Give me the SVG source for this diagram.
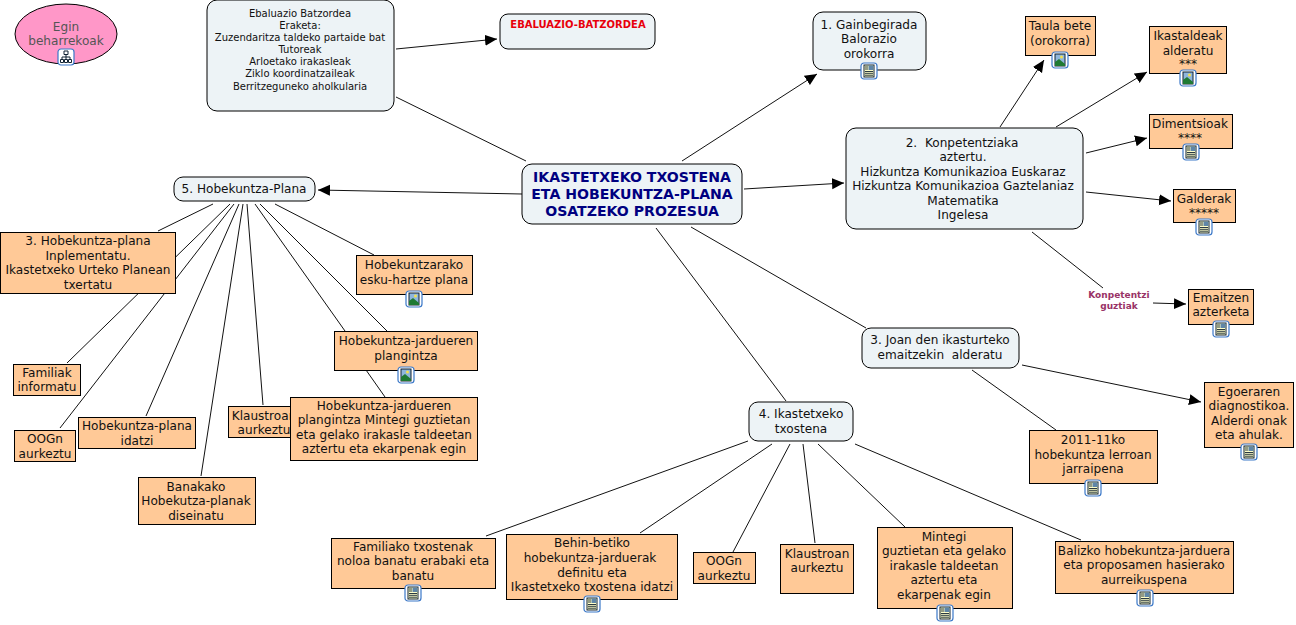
<svg xmlns="http://www.w3.org/2000/svg" width="1296" height="625" viewBox="0 0 1296 625">
<style>
text{font-family:"DejaVu Sans","Liberation Sans",sans-serif;font-size:12.1px;fill:#111;text-anchor:middle}
.o{fill:#ffc997;stroke:#000;stroke-width:1;shape-rendering:crispEdges}
.b{fill:#edf3f6;stroke:#000;stroke-width:1}
.l{fill:none;stroke:#111;stroke-width:1}
text.s{font-size:10px}
text.t{font-size:14.1px;font-weight:bold;fill:#000080}
text.k{font-size:9px;font-weight:bold;fill:#993366}
text.g{fill:#555}
</style>
<defs>
<marker id="a" markerUnits="userSpaceOnUse" markerWidth="14" markerHeight="12" refX="12" refY="5.5" orient="auto"><path d="M0 0L12 5.5L0 11Z" fill="#000"/></marker>
<symbol id="img" width="18" height="18" viewBox="0 0 18 18"><rect x="1" y="1" width="16" height="16" rx="3" fill="#fff" stroke="#3b78c8" stroke-width="1.2"/><rect x="4" y="3" width="10" height="12" fill="#8fb6dc" stroke="#123"/><circle cx="10.5" cy="6" r="1.5" fill="#f4e04d"/><path d="M4 15L4 11L8 8L14 13L14 15Z" fill="#1f7a33"/></symbol>
<symbol id="doc" width="18" height="18" viewBox="0 0 18 18"><rect x="1" y="1" width="16" height="16" rx="3" fill="#fff" stroke="#3b78c8" stroke-width="1.2"/><rect x="4" y="3" width="10" height="12" fill="#ffffc8" stroke="#123"/><rect x="8.5" y="3.5" width="5" height="4.5" fill="#5f86a8"/><path d="M5 5H8M5 7H8M5 9.5H13M5 11.3H13M5 13.2H13" stroke="#123" stroke-width=".9"/></symbol>
<symbol id="map" width="18" height="18" viewBox="0 0 18 18"><rect x="1" y="1" width="16" height="16" rx="3" fill="#fff" stroke="#3b78c8" stroke-width="1.2"/><path d="M7 3H11V6.5H7ZM3.5 11.5H6.5V14.5H3.5ZM7.5 11.5H10.5V14.5H7.5ZM11.5 11.5H14.5V14.5H11.5ZM9 6.5V11.5M5 11.5V9H13V11.5" fill="none" stroke="#123" stroke-width="1"/></symbol>
</defs>
<g id="connectors">
<path class="l" d="M396 49L497 39" marker-end="url(#a)"/>
<path class="l" d="M396 97L526 161"/>
<path class="l" d="M682 161L817 74" marker-end="url(#a)"/>
<path class="l" d="M744 189L844 183" marker-end="url(#a)"/>
<path class="l" d="M522 194L318 190" marker-end="url(#a)"/>
<path class="l" d="M691 227L866 328"/>
<path class="l" d="M656 228L786 401"/>
<path class="l" d="M1000 127L1044 60" marker-end="url(#a)"/>
<path class="l" d="M1056 127L1147 72" marker-end="url(#a)"/>
<path class="l" d="M1086 153L1147 138" marker-end="url(#a)"/>
<path class="l" d="M1086 192L1171 201" marker-end="url(#a)"/>
<path class="l" d="M1032 232L1103 288"/>
<path class="l" d="M1153 303L1186 304" marker-end="url(#a)"/>
<path class="l" d="M1022 365L1201 402" marker-end="url(#a)"/>
<path class="l" d="M972 370L1056 430"/>
<path class="l" d="M748 441L486 536"/>
<path class="l" d="M772 444L640 533"/>
<path class="l" d="M790 444L733 552"/>
<path class="l" d="M803 444L815 543"/>
<path class="l" d="M818 444L905 527"/>
<path class="l" d="M855 444L1081 540"/>
<path class="l" d="M213 204L158 231"/>
<path class="l" d="M230 204L67 363"/>
<path class="l" d="M234 204L60 428"/>
<path class="l" d="M239 204L146 416"/>
<path class="l" d="M243 204L201 476"/>
<path class="l" d="M247 204L263 405"/>
<path class="l" d="M255 204L345 331"/>
<path class="l" d="M260 204L387 331"/>
<path class="l" d="M275 204L374 255"/>
<path class="l" d="M366 370L385 397"/>
</g>
<g id="n-egin"><ellipse cx="66" cy="34" rx="51" ry="30" fill="#ff97c8" stroke="#000"/><text class="g" x="66" y="31">Egin</text><text class="g" x="66" y="45">beharrekoak</text><use href="#map" x="57" y="48"/></g>
<g id="n-ebal"><rect class="b" x="207" y="0" width="187" height="111" rx="10"/><text class="s" x="300" y="17">Ebaluazio Batzordea</text><text class="s" x="300" y="29">Eraketa:</text><text class="s" x="300" y="41">Zuzendaritza taldeko partaide bat</text><text class="s" x="300" y="53">Tutoreak</text><text class="s" x="300" y="65">Arloetako irakasleak</text><text class="s" x="300" y="77">Ziklo koordinatzaileak</text><text class="s" x="300" y="90">Berritzeguneko aholkularia</text></g>
<g id="n-batz"><rect class="b" x="500" y="14" width="155" height="35" rx="8"/><text x="578" y="28" style="font-size:10px;font-weight:bold;fill:#e8000b">EBALUAZIO-BATZORDEA</text></g>
<g id="n-gain"><rect class="b" x="813" y="12" width="113" height="58" rx="10"/><text x="869" y="29">1. Gainbegirada</text><text x="869" y="43">Balorazio</text><text x="869" y="58">orokorra</text><use href="#doc" x="860" y="62"/></g>
<g id="n-main"><rect class="b" x="522" y="164" width="220" height="60" rx="10"/><text class="t" x="632" y="182">IKASTETXEKO TXOSTENA</text><text class="t" x="632" y="199">ETA HOBEKUNTZA-PLANA</text><text class="t" x="632" y="216">OSATZEKO PROZESUA</text></g>
<g id="n-konp"><rect class="b" x="846" y="128" width="237" height="101" rx="10"/><text x="962" y="147" xml:space="preserve">2.  Konpetentziaka</text><text x="963" y="161">aztertu.</text><text x="963" y="176">Hizkuntza Komunikazioa Euskaraz</text><text x="963" y="190">Hizkuntza Komunikazioa Gaztelaniaz</text><text x="963" y="205">Matematika</text><text x="963" y="219">Ingelesa</text></g>
<g id="n-taula"><rect class="o" x="1025" y="16" width="70" height="39"/><text x="1060" y="30">Taula bete</text><text x="1060" y="45">(orokorra)</text><use href="#img" x="1051" y="51"/></g>
<g id="n-ikast"><rect class="o" x="1149" y="26" width="77" height="47"/><text x="1188" y="40">Ikastaldeak</text><text x="1188" y="55">alderatu</text><text x="1188" y="68">***</text><use href="#img" x="1179" y="69"/></g>
<g id="n-dim"><rect class="o" x="1149" y="114" width="83" height="34"/><text x="1190" y="128">Dimentsioak</text><text x="1190" y="142">****</text><use href="#doc" x="1182" y="143"/></g>
<g id="n-gald"><rect class="o" x="1173" y="189" width="62" height="33"/><text x="1204" y="203">Galderak</text><text x="1204" y="217">*****</text><use href="#doc" x="1195" y="218"/></g>
<g id="n-kg"><text class="k" x="1119" y="298">Konpetentzi</text><text class="k" x="1119" y="309">guztiak</text></g>
<g id="n-emai"><rect class="o" x="1188" y="289" width="65" height="35"/><text x="1221" y="302">Emaitzen</text><text x="1221" y="316">azterketa</text><use href="#doc" x="1212" y="320"/></g>
<g id="n-joan"><rect class="b" x="862" y="328" width="157" height="40" rx="9"/><text x="940" y="344">3. Joan den ikasturteko</text><text x="940" y="359" xml:space="preserve">emaitzekin  alderatu</text></g>
<g id="n-ego"><rect class="o" x="1204" y="382" width="89" height="65"/><text x="1249" y="396">Egoeraren</text><text x="1249" y="410">diagnostikoa.</text><text x="1249" y="425">Alderdi onak</text><text x="1249" y="439">eta ahulak.</text><use href="#doc" x="1240" y="443"/></g>
<g id="n-2011"><rect class="o" x="1029" y="430" width="128" height="53"/><text x="1093" y="444">2011-11ko</text><text x="1093" y="459">hobekuntza lerroan</text><text x="1093" y="473">jarraipena</text><use href="#doc" x="1084" y="479"/></g>
<g id="n-4"><rect class="b" x="749" y="402" width="104" height="39" rx="9"/><text x="801" y="418">4. Ikastetxeko</text><text x="801" y="433">txostena</text></g>
<g id="n-bal"><rect class="o" x="1055" y="541" width="178" height="52"/><text x="1144" y="555">Balizko hobekuntza-jarduera</text><text x="1144" y="569">eta proposamen hasierako</text><text x="1144" y="584">aurreikuspena</text><use href="#doc" x="1136" y="589"/></g>
<g id="n-mint"><rect class="o" x="877" y="527" width="135" height="81"/><text x="944" y="541">Mintegi</text><text x="944" y="555">guztietan eta gelako</text><text x="944" y="570">irakasle taldeetan</text><text x="944" y="584">aztertu eta</text><text x="944" y="599">ekarpenak egin</text><use href="#doc" x="936" y="604"/></g>
<g id="n-klau"><rect class="o" x="780" y="544" width="73" height="49"/><text x="817" y="558">Klaustroan</text><text x="817" y="572">aurkeztu</text></g>
<g id="n-oog"><rect class="o" x="693" y="552" width="62" height="31"/><text x="724" y="565">OOGn</text><text x="724" y="580">aurkeztu</text></g>
<g id="n-behin"><rect class="o" x="506" y="534" width="171" height="65"/><text x="592" y="547">Behin-betiko</text><text x="590" y="562">hobekuntza-jarduerak</text><text x="592" y="577">definitu eta</text><text x="592" y="591">Ikastetxeko txostena idatzi</text><use href="#doc" x="583" y="595"/></g>
<g id="n-fam"><rect class="o" x="331" y="538" width="164" height="50"/><text x="413" y="551">Familiako txostenak</text><text x="413" y="565">noloa banatu erabaki eta</text><text x="413" y="580">banatu</text><use href="#doc" x="404" y="584"/></g>
<g id="n-5"><rect class="b" x="174" y="177" width="141" height="24" rx="9"/><text x="244" y="193">5. Hobekuntza-Plana</text></g>
<g id="n-3h"><rect class="o" x="0" y="232" width="175" height="61"/><text x="88" y="245">3. Hobekuntza-plana</text><text x="88" y="260">Inplementatu.</text><text x="88" y="274">Ikastetxeko Urteko Planean</text><text x="88" y="289">txertatu</text></g>
<g id="n-eskuh"><rect class="o" x="356" y="255" width="116" height="39"/><text x="414" y="269">Hobekuntzarako</text><text x="414" y="284">esku-hartze plana</text><use href="#img" x="405" y="290"/></g>
<g id="n-klau2"><rect class="o" x="228" y="406" width="71" height="31"/><text x="264" y="420">Klaustroan</text><text x="264" y="434">aurkeztu</text></g>
<g id="n-plang"><rect class="o" x="334" y="331" width="143" height="39"/><text x="406" y="345">Hobekuntza-jardueren</text><text x="406" y="360">plangintza</text><use href="#img" x="397" y="366"/></g>
<g id="n-plangm"><rect class="o" x="290" y="397" width="187" height="63"/><text x="384" y="410">Hobekuntza-jardueren</text><text x="384" y="424">plangintza Mintegi guztietan</text><text x="384" y="439">eta gelako irakasle taldeetan</text><text x="384" y="453">aztertu eta ekarpenak egin</text></g>
<g id="n-fami"><rect class="o" x="13" y="364" width="67" height="31"/><text x="47" y="377">Familiak</text><text x="47" y="391">informatu</text></g>
<g id="n-idatzi"><rect class="o" x="78" y="417" width="117" height="31"/><text x="137" y="430">Hobekuntza-plana</text><text x="137" y="445">idatzi</text></g>
<g id="n-oog2"><rect class="o" x="14" y="430" width="61" height="31"/><text x="45" y="443">OOGn</text><text x="45" y="458">aurkeztu</text></g>
<g id="n-ban"><rect class="o" x="138" y="477" width="117" height="47"/><text x="196" y="491">Banakako</text><text x="196" y="505">Hobekutza-planak</text><text x="196" y="520">diseinatu</text></g>
</svg>
